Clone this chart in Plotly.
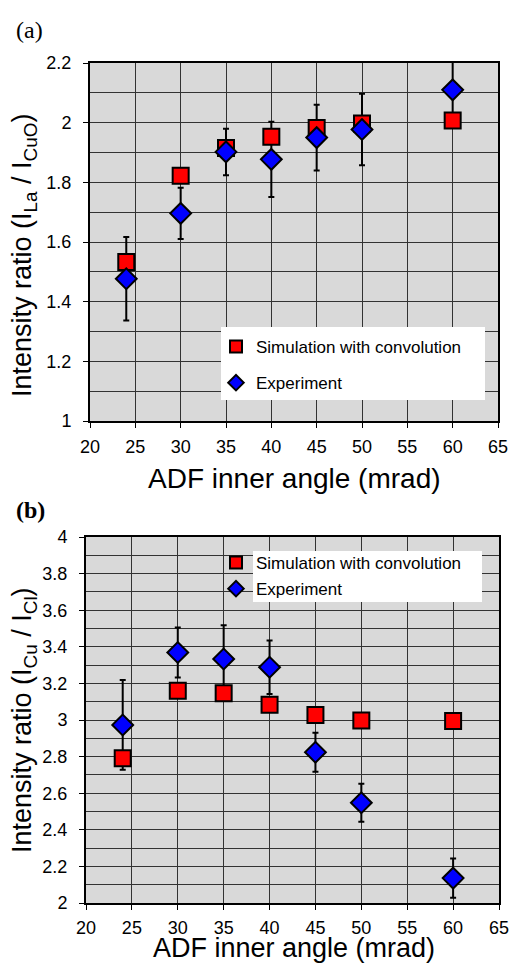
import plotly.graph_objects as go

angles = [24, 30, 35, 40, 45, 50, 60]

# Panel (a): I_La / I_CuO
sim_a = [1.533, 1.822, 1.915, 1.953, 1.982, 1.997, 2.007]
exp_a = [1.477, 1.696, 1.902, 1.877, 1.950, 1.977, 2.110]
err_a = [0.140, 0.086, 0.078, 0.126, 0.110, 0.120, 0.110]

# Panel (b): I_Cu / I_Cl
sim_b = [2.791, 3.160, 3.146, 3.084, 3.027, 2.997, 2.995]
exp_b = [2.973, 3.369, 3.333, 3.288, 2.824, 2.548, 2.136]
err_b = [0.245, 0.137, 0.185, 0.146, 0.107, 0.104, 0.107]

x_title = "ADF inner angle (mrad)"
y_title_a = "Intensity ratio (I<sub>La</sub> / I<sub>CuO</sub>)"
y_title_b = "Intensity ratio (I<sub>Cu</sub> / I<sub>Cl</sub>)"

W, H = 511, 965
def px_x(p):
    return p / W
def px_y(p):
    return 1 - p / H

FONT = "Liberation Sans, Arial, sans-serif"
SERIF = "Liberation Serif, Times New Roman, serif"
RED = "#ff0000"
BLUE = "#0000ff"

fig = go.Figure()

def add_panel(xa, ya, sim, exp, err, legend):
    # error bars of experiment (drawn beneath simulation squares)
    fig.add_trace(go.Scatter(
        x=angles, y=exp, mode="markers", xaxis=xa, yaxis=ya,
        marker=dict(size=1, color="rgba(0,0,0,0)"),
        error_y=dict(type="data", array=err, visible=True, color="black",
                     thickness=2, width=3),
        showlegend=False, hoverinfo="skip"))
    fig.add_trace(go.Scatter(
        x=angles, y=sim, mode="markers", xaxis=xa, yaxis=ya,
        name="Simulation with convolution", legend=legend,
        legendgroup=legend + "sim",
        marker=dict(symbol="square", size=16, color=RED,
                    line=dict(color="black", width=2))))
    fig.add_trace(go.Scatter(
        x=angles, y=exp, mode="markers", xaxis=xa, yaxis=ya,
        name="Experiment", legend=legend,
        legendgroup=legend + "exp",
        marker=dict(symbol="diamond", size=16, color=BLUE,
                    line=dict(color="black", width=2))))

add_panel("x", "y", sim_a, exp_a, err_a, "legend")
add_panel("x2", "y2", sim_b, exp_b, err_b, "legend2")

axis_common = dict(
    showline=True, linecolor="black", linewidth=2, mirror=True,
    showgrid=True, gridcolor="#333333", gridwidth=1,
    ticks="outside", ticklen=5, tickwidth=1, tickcolor="black",
    tickfont=dict(family=FONT, size=18, color="black"),
    zeroline=False, automargin=False,
)
minor_grid = dict(dtick=0.1, showgrid=True, gridcolor="#333333", gridwidth=1)

fig.update_layout(
    width=W, height=H,
    margin=dict(l=0, r=0, t=0, b=0),
    paper_bgcolor="white",
    plot_bgcolor="#d9d9d9",
    font=dict(family=FONT, color="black"),
    xaxis=dict(domain=[px_x(90), px_x(498)], anchor="y", range=[20, 65],
               dtick=5, tick0=20, ticklabelstandoff=3, **axis_common),
    yaxis=dict(domain=[px_y(421), px_y(63)], anchor="x", range=[1, 2.2],
               dtick=0.2, tick0=1, minor=minor_grid, ticklabelstandoff=8,
               **axis_common),
    xaxis2=dict(domain=[px_x(86), px_x(499)], anchor="y2", range=[20, 65],
                dtick=5, tick0=20, ticklabelstandoff=2, **axis_common),
    yaxis2=dict(domain=[px_y(903), px_y(537)], anchor="x2", range=[2, 4],
                dtick=0.2, tick0=2, minor=minor_grid, ticklabelstandoff=8,
                **axis_common),
    legend=dict(x=px_x(216), y=px_y(329), xanchor="left", yanchor="top",
                bgcolor="rgba(0,0,0,0)", borderwidth=0,
                font=dict(family=FONT, size=17, color="black"),
                traceorder="grouped", tracegroupgap=11, itemsizing="constant"),
    legend2=dict(x=px_x(216), y=px_y(545), xanchor="left", yanchor="top",
                 bgcolor="rgba(0,0,0,0)", borderwidth=0,
                 font=dict(family=FONT, size=17, color="black"),
                 traceorder="grouped", tracegroupgap=1, itemsizing="constant"),
    shapes=[
        dict(type="rect", xref="paper", yref="paper", layer="above",
             x0=px_x(221), x1=px_x(485), y0=px_y(400), y1=px_y(327),
             fillcolor="white", line=dict(width=0)),
        dict(type="rect", xref="paper", yref="paper", layer="above",
             x0=px_x(253), x1=px_x(482), y0=px_y(602), y1=px_y(551),
             fillcolor="white", line=dict(width=0)),
    ],
    annotations=[
        dict(text="(a)", xref="paper", yref="paper", x=px_x(14), y=px_y(30),
             xanchor="left", yanchor="middle", showarrow=False,
             font=dict(family=SERIF, size=24, color="black")),
        dict(text="<b>(b)</b>", xref="paper", yref="paper", x=px_x(14),
             y=px_y(510), xanchor="left", yanchor="middle", showarrow=False,
             font=dict(family=SERIF, size=24, color="black")),
        dict(text=x_title, xref="paper", yref="paper", x=px_x(294),
             y=px_y(478), xanchor="center", yanchor="middle", showarrow=False,
             font=dict(family=FONT, size=28, color="black")),
        dict(text=x_title, xref="paper", yref="paper", x=px_x(294),
             y=px_y(948), xanchor="center", yanchor="middle", showarrow=False,
             font=dict(family=FONT, size=27, color="black")),
        dict(text=y_title_a, xref="paper", yref="paper", x=px_x(24),
             y=px_y(256), xanchor="center", yanchor="middle", showarrow=False,
             textangle=-90, font=dict(family=FONT, size=27, color="black")),
        dict(text=y_title_b, xref="paper", yref="paper", x=px_x(24),
             y=px_y(720), xanchor="center", yanchor="middle", showarrow=False,
             textangle=-90, font=dict(family=FONT, size=27, color="black")),
    ],
)

fig.write_html(
    "out.html",
    config={"displayModeBar": False},
    post_script="document.body.style.margin='0';"
                "document.body.style.overflow='hidden';",
)
